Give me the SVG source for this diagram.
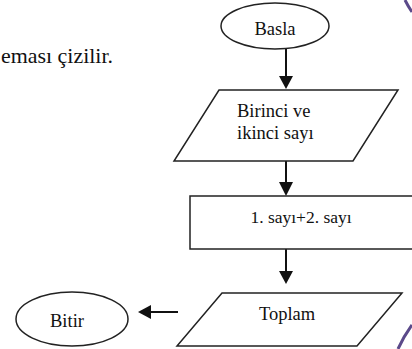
<svg xmlns="http://www.w3.org/2000/svg" width="412" height="349" viewBox="0 0 412 349">
<style>
.shape{fill:#fff;stroke:#222;stroke-width:1.5}
.lbl{font-family:"Liberation Serif","Times New Roman",serif;font-size:18.5px;fill:#111}
.conn{stroke:#111;stroke-width:2;fill:none}
.head{fill:#111}
</style>
<rect width="412" height="349" fill="#fff"/>
<text x="1" y="63" textLength="112" lengthAdjust="spacingAndGlyphs" style="font-family:'Liberation Serif','Times New Roman',serif;font-size:21px;fill:#111">eması çizilir.</text>
<path d="M398,349 Q404,336 412,325" fill="none" stroke="#5b4a8a" stroke-width="3"/>
<path d="M405,0 Q408,6 412,12" fill="none" stroke="#5b4a8a" stroke-width="3"/>
<g id="connectors">
<line class="conn" x1="286" y1="49" x2="286" y2="77"/>
<polygon class="head" points="279,76 293,76 286,89"/>
<line class="conn" x1="286" y1="161" x2="286" y2="184"/>
<polygon class="head" points="279,182 293,182 286,196"/>
<line class="conn" x1="286" y1="249" x2="286" y2="273"/>
<polygon class="head" points="279,271 293,271 286,284"/>
<line class="conn" x1="178" y1="312" x2="149" y2="312"/>
<polygon class="head" points="151,305 151,319 138,312"/>
</g>
<g id="basla">
<ellipse class="shape" cx="275" cy="26" rx="54" ry="23"/>
<text class="lbl" x="275" y="35" text-anchor="middle">Basla</text>
</g>
<g id="input">
<polygon class="shape" points="219,90 398,90 353,161 174,161"/>
<text class="lbl" x="237" y="117">Birinci ve</text>
<text class="lbl" x="237" y="139">ikinci sayı</text>
</g>
<g id="process">
<rect class="shape" x="190" y="196" width="240" height="53"/>
<text class="lbl" x="301" y="223" text-anchor="middle" style="font-size:17.5px">1. sayı+2. sayı</text>
</g>
<g id="output">
<polygon class="shape" points="222,293 402,293 357,346 177,346"/>
<text class="lbl" x="287" y="320" text-anchor="middle">Toplam</text>
</g>
<g id="bitir">
<ellipse class="shape" cx="72" cy="319" rx="56" ry="27"/>
<text class="lbl" x="67" y="327" text-anchor="middle">Bitir</text>
</g>
</svg>
